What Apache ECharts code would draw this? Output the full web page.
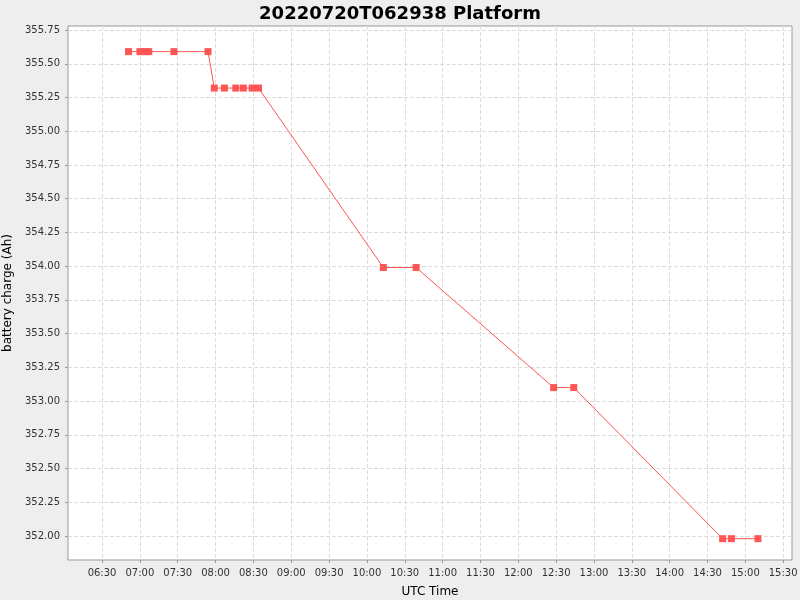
<!DOCTYPE html>
<html><head><meta charset="utf-8">
<script src="https://cdn.jsdelivr.net/npm/echarts@6/dist/echarts.min.js"></script>
<style>html,body{margin:0;background:#eeeeee}#c{width:800px;height:600px}</style>
</head><body><div id="c"></div>
<script>
const times = ["06:51","07:00","07:04","07:07","07:27","07:54","07:59","08:07","08:16","08:22","08:29","08:34","10:13","10:39","12:28","12:44","14:42","14:49","15:10"];
const charge = [355.59,355.59,355.59,355.59,355.59,355.59,355.32,355.32,355.32,355.32,355.32,355.32,353.99,353.99,353.10,353.10,351.98,351.98,351.98];
const xTicks = ["06:30","07:00","07:30","08:00","08:30","09:00","09:30","10:00","10:30","11:00","11:30","12:00","12:30","13:00","13:30","14:00","14:30","15:00","15:30"];
const yTicks = [352.00,352.25,352.50,352.75,353.00,353.25,353.50,353.75,354.00,354.25,354.50,354.75,355.00,355.25,355.50,355.75];
const toMin = t => { const [h,m] = t.split(':').map(Number); return h*60+m; };
const fmt = v => String(Math.floor(v/60)).padStart(2,'0')+':'+String(Math.round(v%60)).padStart(2,'0');
const xVals = xTicks.map(toMin);
const chart = echarts.init(document.getElementById('c'));
chart.setOption({
  backgroundColor:'#eeeeee',
  animation:false,
  textStyle:{fontFamily:'DejaVu Sans'},
  title:{text:'20220720T062938 Platform',left:'center',top:0,textStyle:{fontSize:18,fontWeight:'bold',color:'#000',fontFamily:'DejaVu Sans'}},
  grid:{left:68,right:8,top:26,bottom:40,containLabel:false,outerBoundsMode:'none',show:true,backgroundColor:'#ffffff',borderColor:'#999',borderWidth:1},
  xAxis:{type:'value',min:363,max:937,name:'UTC Time',nameLocation:'middle',nameGap:26,
    nameTextStyle:{fontSize:12,color:'#000'},
    axisLine:{show:false},axisTick:{show:true,length:3,lineStyle:{color:'#999'},customValues:xVals},
    axisLabel:{fontSize:10,color:'#333',formatter:v=>fmt(v),customValues:xVals},
    splitLine:{show:true,lineStyle:{color:'#dddddd',type:'dashed'}}},
  yAxis:{type:'value',min:351.822,max:355.78,name:'battery charge (Ah)',nameLocation:'middle',nameGap:48,
    nameTextStyle:{fontSize:12,color:'#000'},
    axisLine:{show:false},axisTick:{show:true,length:3,lineStyle:{color:'#999'},customValues:yTicks},
    axisLabel:{fontSize:10,color:'#333',formatter:v=>v.toFixed(2),customValues:yTicks},
    splitLine:{show:true,lineStyle:{color:'#dddddd',type:'dashed'}}},
  series:[{type:'line',data:times.map((t,i)=>[toMin(t),charge[i]]),symbol:'rect',symbolSize:7,
    itemStyle:{color:'#ff5555'},lineStyle:{color:'#ff5555',width:1}}]
});
</script></body></html>
